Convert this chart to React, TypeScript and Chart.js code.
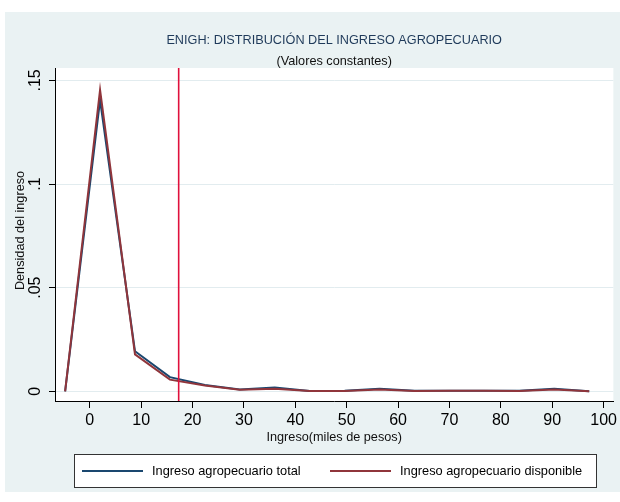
import React, { useEffect, useRef } from "react";
import { Chart, registerables } from "chart.js";

Chart.register(...registerables);

// ---- data ----
const incomeX = [-4.8, 2.0, 8.8, 15.6, 22.4, 29.2, 36.0, 42.8, 49.6, 56.4, 63.2, 70.0, 76.8, 83.6, 90.4, 97.2];
const totalDensity = [0, 0.1405, 0.0193, 0.0068, 0.003, 0.0008, 0.0018, 0.0001, 0.0002, 0.0012, 0.0002, 0.0002, 0.0002, 0.0002, 0.0012, 0];
const disponibleDensity = [0, 0.1455, 0.0178, 0.0056, 0.0028, 0.0007, 0.0012, 0.0001, 0.0001, 0.0008, 0.0001, 0.0002, 0.0002, 0.0001, 0.0009, 0];
const xTicks = [0, 10, 20, 30, 40, 50, 60, 70, 80, 90, 100];
const yTicks = [0, 0.05, 0.1, 0.15];
const yTickLabels = ["0", ".05", ".1", ".15"];
const referenceLineX = 17.3;
const seriesLabels = ["Ingreso agropecuario total", "Ingreso agropecuario disponible"];
const titleText = "ENIGH: DISTRIBUCIÓN DEL INGRESO AGROPECUARIO";
const subtitleText = "(Valores constantes)";
const xTitle = "Ingreso(miles de pesos)";
const yTitle = "Densidad del ingreso";

const FONT = '"Liberation Sans", Arial, Helvetica, sans-serif';
const BLUE = "#1A476F";
const RED = "#90353B";
const VLINE = "#E0103C";
const BG = "#EAF2F3";

const decorPlugin = {
  id: "decor",
  beforeDraw(chart: any) {
    const { ctx, chartArea: a } = chart;
    ctx.save();
    ctx.fillStyle = "#ffffff";
    ctx.fillRect(0, 0, chart.width, chart.height);
    ctx.fillStyle = BG;
    ctx.fillRect(5, 12, chart.width - 5, 480);
    ctx.fillStyle = "#ffffff";
    ctx.fillRect(a.left, a.top, a.right - a.left, a.bottom - a.top);
    ctx.restore();
  },
  afterDatasetsDraw(chart: any) {
    const { ctx, chartArea: a, scales } = chart;
    const px = scales.x.getPixelForValue(referenceLineX);
    ctx.save();
    ctx.strokeStyle = VLINE;
    ctx.lineWidth = 1.6;
    ctx.beginPath();
    ctx.moveTo(px, a.top);
    ctx.lineTo(px, a.bottom);
    ctx.stroke();
    ctx.restore();
  },
  afterDraw(chart: any) {
    const { ctx, chartArea: a, scales } = chart;
    const cx = (a.left + a.right) / 2;
    ctx.save();
    // titles
    ctx.textAlign = "center";
    ctx.textBaseline = "middle";
    ctx.fillStyle = "#1F3A5A";
    ctx.font = `12.7px ${FONT}`;
    ctx.fillText(titleText, cx, 40);
    ctx.fillStyle = "#111";
    ctx.fillText(subtitleText, cx, 61);
    // x title
    ctx.fillText(xTitle, cx, 437);
    // y title
    ctx.save();
    ctx.translate(20, (a.top + a.bottom) / 2 - 4);
    ctx.rotate(-Math.PI / 2);
    ctx.fillText(yTitle, 0, 0);
    ctx.restore();
    // y tick labels
    ctx.font = `16px ${FONT}`;
    ctx.fillStyle = "#000";
    yTicks.forEach((v, i) => {
      const py = scales.y.getPixelForValue(v);
      ctx.save();
      ctx.translate(36, py);
      ctx.rotate(-Math.PI / 2);
      ctx.fillText(yTickLabels[i], 0, 0);
      ctx.restore();
    });
    // legend
    const bx = 74.5, by = 454.5, bw = 522, bh = 33;
    ctx.fillStyle = "#fff";
    ctx.fillRect(bx, by, bw, bh);
    ctx.strokeStyle = "#333";
    ctx.lineWidth = 1;
    ctx.strokeRect(bx, by, bw, bh);
    const ly = 471;
    const items = [
      { color: BLUE, x0: 82, x1: 143, tx: 152 },
      { color: RED, x0: 330, x1: 391, tx: 400 },
    ];
    ctx.font = `12.8px ${FONT}`;
    ctx.textAlign = "left";
    items.forEach((it, i) => {
      ctx.strokeStyle = it.color;
      ctx.lineWidth = 2;
      ctx.beginPath();
      ctx.moveTo(it.x0, ly);
      ctx.lineTo(it.x1, ly);
      ctx.stroke();
      ctx.fillStyle = "#000";
      ctx.fillText(seriesLabels[i], it.tx, ly);
    });
    ctx.restore();
  },
};

export default function App() {
  const ref = useRef<HTMLCanvasElement | null>(null);
  useEffect(() => {
    document.body.style.margin = "0";
    const canvas = ref.current!;
    const chart = new Chart(canvas, {
      type: "line",
      data: {
        datasets: [
          {
            label: seriesLabels[0],
            data: incomeX.map((x, i) => ({ x, y: totalDensity[i] })),
            borderColor: BLUE,
            borderWidth: 2,
            pointRadius: 0,
            tension: 0,
            fill: false,
            order: 1,
          },
          {
            label: seriesLabels[1],
            data: incomeX.map((x, i) => ({ x, y: disponibleDensity[i] })),
            borderColor: RED,
            borderWidth: 2,
            pointRadius: 0,
            tension: 0,
            fill: false,
            order: 0,
          },
        ],
      },
      options: {
        animation: false,
        responsive: false,
        devicePixelRatio: 1,
        layout: { padding: { top: 68, right: 3, left: 0, bottom: 0 } },
        plugins: { legend: { display: false }, tooltip: { enabled: false }, title: { display: false } },
        scales: {
          x: {
            type: "linear",
            min: -6.77,
            max: 101.9,
            afterBuildTicks: (s: any) => {
              s.ticks = xTicks.map((v) => ({ value: v }));
            },
            afterFit: (s: any) => {
              s.height = 101;
            },
            ticks: {
              autoSkip: false,
              maxRotation: 0,
              minRotation: 0,
              padding: 3,
              color: "#000",
              font: { family: FONT, size: 16 },
              callback: (v: any) => String(v),
            },
            grid: { drawOnChartArea: false, tickLength: 7, tickColor: "#000", tickWidth: 1 },
            border: { color: "#000", width: 1 },
          },
          y: {
            type: "linear",
            min: -0.0047,
            max: 0.156,
            afterBuildTicks: (s: any) => {
              s.ticks = yTicks.map((v) => ({ value: v }));
            },
            afterFit: (s: any) => {
              s.width = 55;
            },
            ticks: { display: false },
            grid: { color: "#E2ECEF", lineWidth: 1, tickLength: 6, tickColor: "#000", tickWidth: 1 },
            border: { color: "#000", width: 1 },
          },
        },
      },
      plugins: [decorPlugin],
    } as any);
    return () => chart.destroy();
  }, []);
  return (
    <div style={{ width: 620, height: 502 }}>
      <canvas ref={ref} width={620} height={502} style={{ display: "block" }} />
    </div>
  );
}
